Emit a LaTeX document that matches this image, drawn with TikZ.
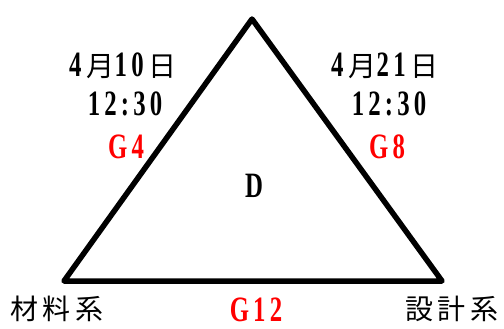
\documentclass[tikz,border=0pt]{standalone}
\usepackage{fontspec}
\setmainfont{Liberation Serif}
\newfontfamily\cjk{Noto Sans CJK JP}
\newcommand\dg[1]{\scalebox{0.8}[1.15]{\bfseries #1}}
\begin{document}
\begin{tikzpicture}[x=1pt,y=-1pt,
  lbl/.style={inner sep=0pt, font=\fontsize{31}{34}\selectfont},
  redlbl/.style={lbl, text=red},
  edge/.style={line width=5.5pt, line join=round}]
\useasboundingbox (0,0) rectangle (504,329);
\coordinate (A) at (252,19);
\coordinate (B) at (64,281);
\coordinate (C) at (442,281);
\draw[edge] (A) -- (B) -- (C) -- cycle;
\node[lbl] (d1) at (123,66) {\dg{4}\,{\cjk\fontsize{28}{30}\selectfont 月}\dg{1\,0}\,{\cjk\fontsize{28}{30}\selectfont 日}};
\node[lbl] (t1) at (125,104) {\dg{1\,2\,:\,3\,0}};
\node[redlbl] (g4) at (126,147) {\dg{G\,4}};
\node[lbl] (d2) at (385,66) {\dg{4}\,{\cjk\fontsize{28}{30}\selectfont 月}\dg{2\,1}\,{\cjk\fontsize{28}{30}\selectfont 日}};
\node[lbl] (t2) at (389,104) {\dg{1\,2\,:\,3\,0}};
\node[redlbl] (g8) at (387,147) {\dg{G\,8}};
\node[lbl] (dd) at (254,186) {\dg{D}};
\node[lbl] (m) at (57,309) {\fontsize{28}{30}\selectfont\cjk 材\,料\,系};
\node[redlbl] (g12) at (256,310) {\dg{G\,1\,2}};
\node[lbl] (s) at (452,309) {\fontsize{28}{30}\selectfont\cjk 設\,計\,系};
\end{tikzpicture}
\end{document}
